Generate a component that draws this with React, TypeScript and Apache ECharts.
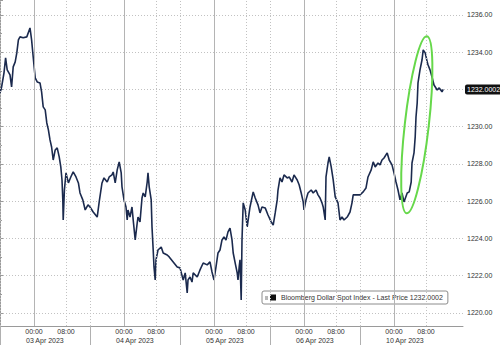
import React, { useEffect, useRef } from 'react';
import * as echarts from 'echarts';

// ---- data (x = compressed trading hours from the left edge of the chart) ----
const seriesName = 'Bloomberg Dollar Spot Index - Last Price';

const times = [
  0, 0.4, 1.0, 1.4, 1.8, 2.5, 2.9, 3.3, 3.8, 4.2, 4.6, 5.0, 5.8, 6.7, 7.5, 7.9, 8.3, 8.8, 9.3, 10.0,
  10.4, 10.8, 11.3, 11.7, 12.1, 12.5, 12.9, 13.3, 13.8, 14.3, 14.8, 15.2, 15.5, 15.7, 15.8, 16.1, 16.5, 17.1, 17.7, 18.3,
  19.0, 19.6, 20.0, 20.7, 21.3, 22.0, 22.5, 23.3, 24.3, 24.8, 25.5, 26.0, 26.8, 27.3, 28.0, 28.3, 28.8, 29.3, 29.8, 30.3,
  30.5, 31.0, 31.5, 31.8, 32.0, 32.5, 33.0, 33.3, 33.8, 34.3, 34.5, 35.0, 35.5, 35.8, 36.3, 36.8, 37.0, 37.3, 37.8, 38.0,
  38.3, 38.5, 38.8, 39.0, 39.5, 40.3, 40.8, 41.8, 42.3, 43.3, 44.3, 45.0, 45.8, 46.3, 46.8, 47.0, 47.5, 48.0, 48.3, 49.3,
  50.0, 50.8, 51.8, 52.5, 53.0, 53.5, 54.0, 54.5, 55.0, 55.5, 56.0, 56.5, 57.0, 57.5, 58.0, 58.3, 58.8, 59.3, 59.5, 59.8,
  60.0, 60.3, 60.5, 60.8, 61.3, 61.8, 62.5, 63.3, 63.8, 64.5, 65.0, 65.5, 66.3, 67.0, 67.8, 68.3, 68.8, 69.3, 69.5, 70.0,
  70.5, 71.0, 71.8, 72.3, 73.0, 73.5, 74.3, 74.8, 75.3, 75.8, 76.0, 76.5, 77.0, 77.8, 78.3, 79.0, 79.5, 80.0, 80.5, 80.8,
  81.3, 81.5, 82.0, 82.3, 82.8, 83.3, 83.8, 84.5, 85.0, 85.5, 86.0, 86.8, 87.5, 88.0, 88.3, 90.0, 90.8, 91.5, 92.0, 92.8,
  93.3, 93.8, 94.5, 95.0, 95.5, 96.0, 96.8, 97.3, 98.0, 98.5, 99.0, 99.5, 100.0, 100.5, 101.0, 101.8, 102.3, 102.8, 103.0, 103.5,
  103.8, 104.0, 104.3, 104.5, 105.0, 105.5, 105.8, 106.3, 106.8, 107.0, 107.5, 108.0, 108.5, 109.3, 109.8, 110.5, 110.8,
];

const prices = [
  1231.81, 1232.13, 1232.89, 1233.69, 1233.05, 1232.78, 1232.13, 1233.21, 1233.48, 1233.96, 1234.66, 1234.82, 1234.77, 1234.82, 1235.30, 1234.66, 1233.74, 1232.62, 1232.40, 1232.35,
  1231.87, 1231.06, 1230.90, 1230.20, 1229.83, 1229.29, 1228.91, 1228.21, 1228.75, 1228.86, 1228.38, 1227.84, 1227.14, 1226.07, 1224.99, 1226.60, 1227.52, 1226.98, 1227.30, 1227.57,
  1227.30, 1226.98, 1226.44, 1226.07, 1225.53, 1225.80, 1225.69, 1225.42, 1225.15, 1225.96, 1226.98, 1227.25, 1227.03, 1227.30, 1227.41, 1227.57, 1226.98, 1227.68, 1228.11, 1227.52,
  1226.77, 1226.07, 1225.69, 1224.99, 1225.53, 1225.15, 1225.69, 1224.99, 1223.92, 1224.83, 1225.15, 1224.89, 1226.17, 1226.44, 1226.23, 1227.03, 1227.52, 1226.77, 1226.07, 1224.62,
  1223.38, 1222.47, 1221.77, 1222.85, 1223.38, 1223.54, 1223.22, 1223.11, 1223.01, 1222.74, 1222.47, 1222.42, 1221.77, 1222.15, 1221.07, 1221.77, 1221.93, 1221.66, 1222.15, 1221.93,
  1222.31, 1222.68, 1222.58, 1222.74, 1222.20, 1221.77, 1222.47, 1223.22, 1223.38, 1223.92, 1224.08, 1223.92, 1224.35, 1224.56, 1223.92, 1223.22, 1222.68, 1222.15, 1221.77, 1222.47,
  1222.85, 1220.70, 1223.92, 1225.91, 1225.53, 1224.62, 1225.69, 1226.50, 1226.17, 1225.80, 1225.37, 1225.69, 1225.64, 1225.26, 1224.89, 1224.72, 1225.37, 1226.07, 1226.60, 1227.25,
  1227.03, 1227.41, 1227.25, 1227.30, 1227.03, 1227.41, 1227.14, 1226.87, 1226.44, 1225.96, 1225.53, 1226.07, 1226.44, 1226.60, 1226.44, 1226.60, 1226.34, 1226.17, 1225.91, 1225.69,
  1224.99, 1227.30, 1228.05, 1228.38, 1227.84, 1227.14, 1226.23, 1225.91, 1224.99, 1225.15, 1224.99, 1225.15, 1225.42, 1225.91, 1226.34, 1226.34, 1226.50, 1226.71, 1227.30, 1227.68,
  1228.11, 1227.84, 1228.05, 1227.95, 1228.21, 1228.32, 1228.59, 1228.21, 1227.95, 1227.52, 1227.03, 1226.60, 1226.07, 1226.44, 1225.96, 1226.44, 1226.50, 1227.03, 1228.05, 1228.59,
  1229.45, 1230.52, 1231.28, 1232.35, 1233.05, 1233.58, 1234.12, 1233.96, 1233.48, 1233.32, 1233.05, 1232.67, 1232.24, 1231.97, 1232.08, 1231.87, 1232.0002,
];

const dayStarts = [8.5, 31, 53.5, 76, 98.5];
const dayLabels = ['03 Apr 2023', '04 Apr 2023', '05 Apr 2023', '06 Apr 2023', '10 Apr 2023'];
const hourMarks = [16.5, 39, 61.5, 84, 106.5];
const sessionBreaks = [0, 22.5, 45, 67.5, 90];

const xMax = 115.75;
const yMin = 1219.3;
const yMax = 1236.8;

// annotation ellipse around the final rally (centre in data coords)
const ringCenter = [104.2, 1230.1];

export default function App() {
  const ref = useRef<HTMLDivElement>(null);

  useEffect(() => {
    if (!ref.current) return;
    const chart = echarts.init(ref.current, null, { renderer: 'svg' });
    const lastPrice = prices[prices.length - 1];
    const timeTicks = [...dayStarts, ...hourMarks].sort((a, b) => a - b);
    const isDay = (v: number) => dayStarts.some((d) => Math.abs(d - v) < 0.01);
    const font = 'Liberation Sans';

    const gridDash = { type: [1, 2] as any, color: '#c2c2c2', width: 1 };

    chart.setOption({
      animation: false,
      backgroundColor: '#ffffff',
      textStyle: { fontFamily: font },
      grid: { left: 0, right: 37, top: 0, bottom: 19, containLabel: false, outerBoundsMode: 'none' },
      legend: {
        data: [seriesName],
        left: 262,
        top: 291,
        icon: 'rect',
        itemWidth: 6,
        itemHeight: 6,
        padding: [3, 5, 3, 8],
        borderColor: '#8c8c8c',
        borderWidth: 1,
        borderRadius: 2,
        backgroundColor: '#ffffff',
        selectedMode: false,
        textStyle: { fontSize: 7, color: '#333', fontFamily: font },
        formatter: (n: string) => n + ' ' + lastPrice.toFixed(4),
      },
      xAxis: [
        {
          type: 'value',
          min: 0,
          max: xMax,
          axisLine: { show: true, lineStyle: { color: '#9a9a9a' } },
          axisTick: { show: true, customValues: sessionBreaks, length: 19, lineStyle: { color: '#b0b0b0' } },
          axisLabel: {
            customValues: timeTicks,
            formatter: (v: number) => (isDay(v) ? '00:00' : '08:00'),
            fontSize: 7,
            color: '#333',
            margin: 2,
            fontFamily: font,
          },
          splitLine: { show: false },
        },
        {
          type: 'value',
          min: 2,
          max: xMax + 2,
          position: 'bottom',
          axisLine: { show: false },
          axisTick: { show: false },
          splitLine: { show: false },
          axisLabel: {
            customValues: dayStarts,
            formatter: (v: number) => {
              const i = dayStarts.findIndex((d) => Math.abs(d - v) < 0.01);
              return i >= 0 ? dayLabels[i] : '';
            },
            align: 'left',
            fontSize: 7,
            color: '#333',
            margin: 11,
            fontFamily: font,
          },
        },
      ],
      yAxis: {
        type: 'value',
        position: 'right',
        min: yMin,
        max: yMax,
        splitNumber: 9,
        axisLine: { show: true, lineStyle: { color: '#9a9a9a' } },
        axisTick: { show: true, length: 3, lineStyle: { color: '#9a9a9a' } },
        minorTick: { show: true, splitNumber: 2, length: 2, lineStyle: { color: '#9a9a9a' } },
        axisLabel: {
          fontSize: 7,
          color: '#333',
          margin: 4,
          fontFamily: font,
          showMinLabel: false,
          showMaxLabel: false,
          // the last-price tag sits on top of the label at the same level
          formatter: (v: number) => (Math.abs(v - lastPrice) < 0.5 ? '' : v.toFixed(2)),
        },
        splitLine: { show: true, showMinLine: false, showMaxLine: false, lineStyle: gridDash },
      },
      series: [
        {
          name: '',
          type: 'line',
          data: [],
          z: 1,
          silent: true,
          markLine: {
            silent: true,
            symbol: ['none', 'none'],
            label: { show: false },
            data: [
              ...dayStarts.map((v) => ({ xAxis: v, lineStyle: { type: 'solid', color: '#b4b4b4', width: 1 } })),
              ...hourMarks.map((v) => ({ xAxis: v, lineStyle: gridDash })),
              ...sessionBreaks.map((v) => ({ xAxis: v, lineStyle: gridDash })),
              {
                yAxis: lastPrice,
                lineStyle: { color: 'transparent', width: 0 },
                label: {
                  show: true,
                  position: 'end',
                  distance: 2,
                  formatter: () => lastPrice.toFixed(4),
                  color: '#ffffff',
                  backgroundColor: '#111111',
                  borderRadius: 2,
                  padding: [2, 2, 1, 2],
                  fontSize: 7,
                  fontFamily: font,
                },
              },
            ],
          },
        },
        {
          name: seriesName,
          type: 'line',
          z: 3,
          showSymbol: false,
          symbol: 'none',
          data: times.map((t, i) => [t, prices[i]]),
          lineStyle: { color: '#1b2a4e', width: 1.6 },
          itemStyle: { color: '#111111' },
        },
      ],
    });

    const c = chart.convertToPixel({ xAxisIndex: 0, yAxisIndex: 0 }, ringCenter) as number[];
    chart.setOption({
      graphic: [
        {
          type: 'rect',
          left: 265,
          top: 296,
          shape: { width: 3, height: 4 },
          style: { fill: '#b8b8b8' },
          z: 100,
        },
        {
          type: 'ellipse',
          x: c[0],
          y: c[1],
          rotation: -0.113,
          shape: { cx: 0, cy: 0, rx: 12, ry: 89 },
          style: { fill: 'none', stroke: '#66d84a', lineWidth: 2 },
          z: 100,
        },
      ],
    });

    return () => chart.dispose();
  }, []);

  return <div ref={ref} style={{ position: 'absolute', left: 0, top: 0, width: 500, height: 345 }} />;
}
